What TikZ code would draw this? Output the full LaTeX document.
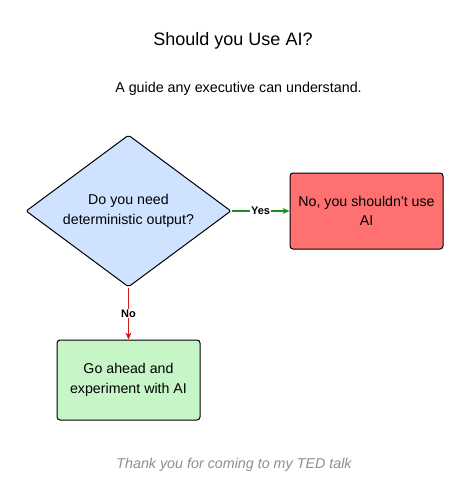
\documentclass[tikz,border=0pt]{standalone}
\usepackage{fontspec}
\setmainfont{Liberation Sans}
\usetikzlibrary{shapes.geometric,arrows.meta}
\definecolor{dfill}{HTML}{CFE2FF}
\definecolor{rfill}{HTML}{FF7070}
\definecolor{gfill}{HTML}{C6F6C8}
\definecolor{yescol}{HTML}{1E8C1E}
\definecolor{nocol}{HTML}{D01818}
\definecolor{footcol}{HTML}{8A8F99}
\begin{document}
\begin{tikzpicture}[x=1pt,y=-1pt,
  boxtext/.style={font=\fontsize{14.2}{19.5}\selectfont, align=center},
  decision/.style={diamond, aspect=1.35, draw=black, line width=1pt, fill=dfill, minimum width=205pt, minimum height=152pt, inner sep=0pt, rounded corners=2pt, boxtext},
  result/.style={rectangle, draw=black, line width=1pt, rounded corners=3pt, boxtext, inner sep=0pt},
  conn/.style={line width=1.1pt, -{Stealth[length=7pt,width=6pt]}},
  clabel/.style={font=\fontsize{11}{13}\selectfont\bfseries, fill=white, inner sep=1pt}
]
\fill[white] (0,0) rectangle (466,500);
\useasboundingbox (0,0) rectangle (466,500);
\node[font=\fontsize{18}{22}\selectfont] (title) at (233,41) {Should you Use AI?};
\node[font=\fontsize{14.3}{16}\selectfont] (sub) at (238.5,89) {A guide any executive can understand.};
\node[decision] (q) at (128.5,211) {Do you need\\deterministic output?};
\node[result, fill=rfill, minimum width=153pt, minimum height=76pt] (no) at (366.5,211) {No, you shouldn\textquotesingle t use\\AI};
\node[result, fill=gfill, minimum width=143pt, minimum height=80pt] (go) at (128.5,380) {Go ahead and\\experiment with AI};
\draw[conn, draw=yescol, fill=yescol] (q.east) -- node[clabel, text=black] {Yes} (no.west);
\draw[conn, draw=nocol, fill=nocol] (q.south) -- node[clabel, text=black] {No} (go.north);
\node[font=\fontsize{14.3}{16}\selectfont\itshape, text=footcol] (foot) at (234,465) {Thank you for coming to my TED talk};
\end{tikzpicture}
\end{document}
